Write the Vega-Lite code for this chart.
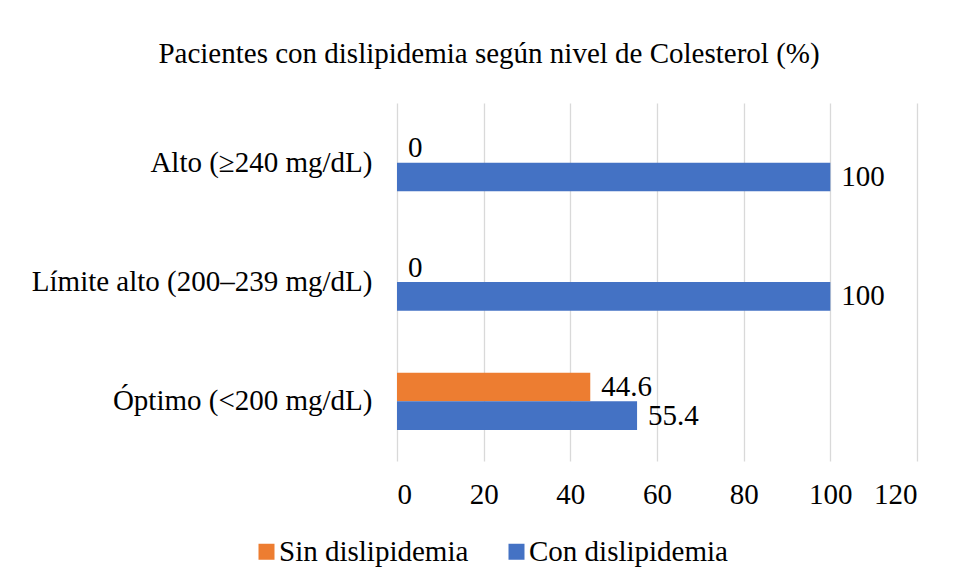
{
  "$schema": "https://vega.github.io/schema/vega-lite/v6.json",
  "autosize": {"type": "none"},
  "width": 520,
  "height": 358,
  "padding": {"left": 397, "top": 103, "right": 42, "bottom": 122},
  "background": "white",
  "config": {
    "view": {"stroke": null},
    "font": "Times New Roman, Liberation Serif, serif",
    "text": {"font": "Times New Roman, Liberation Serif, serif"}
  },
  "title": {
    "text": "Pacientes con dislipidemia según nivel de Colesterol (%)",
    "font": "Times New Roman, Liberation Serif, serif",
    "fontSize": 29,
    "fontWeight": "normal",
    "color": "#000000",
    "anchor": "middle",
    "dx": -168,
    "offset": 34
  },
  "data": {
    "values": [
      {"nivel": "Alto (≥240 mg/dL)", "grupo": "Sin dislipidemia", "valor": 0},
      {"nivel": "Alto (≥240 mg/dL)", "grupo": "Con dislipidemia", "valor": 100},
      {"nivel": "Límite alto (200–239 mg/dL)", "grupo": "Sin dislipidemia", "valor": 0},
      {"nivel": "Límite alto (200–239 mg/dL)", "grupo": "Con dislipidemia", "valor": 100},
      {"nivel": "Óptimo (<200 mg/dL)", "grupo": "Sin dislipidemia", "valor": 44.6},
      {"nivel": "Óptimo (<200 mg/dL)", "grupo": "Con dislipidemia", "valor": 55.4}
    ]
  },
  "encoding": {
    "y": {
      "field": "nivel",
      "type": "nominal",
      "sort": ["Alto (≥240 mg/dL)", "Límite alto (200–239 mg/dL)", "Óptimo (<200 mg/dL)"],
      "scale": {"paddingInner": 0.52, "paddingOuter": 0.26},
      "axis": {
        "title": null,
        "domain": false,
        "ticks": false,
        "labelFont": "Times New Roman, Liberation Serif, serif",
        "labelFontSize": 29,
        "labelColor": "#000000",
        "labelPadding": 25,
        "labelLimit": 400
      }
    },
    "yOffset": {
      "field": "grupo",
      "type": "nominal",
      "sort": ["Sin dislipidemia", "Con dislipidemia"]
    },
    "x": {
      "field": "valor",
      "type": "quantitative",
      "scale": {"domain": [0, 120], "nice": false},
      "axis": {
        "title": null,
        "values": [0, 20, 40, 60, 80, 100, 120],
        "domain": false,
        "ticks": false,
        "grid": true,
        "gridColor": "#d9d9d9",
        "gridWidth": 1.3,
        "labelFont": "Times New Roman, Liberation Serif, serif",
        "labelFontSize": 29,
        "labelColor": "#000000",
        "labelPadding": 19
      }
    }
  },
  "layer": [
    {
      "mark": {"type": "bar"},
      "encoding": {
        "color": {
          "field": "grupo",
          "type": "nominal",
          "sort": ["Sin dislipidemia", "Con dislipidemia"],
          "scale": {"domain": ["Sin dislipidemia", "Con dislipidemia"], "range": ["#ED7D31", "#4472C4"]},
          "legend": {
            "title": null,
            "orient": "none",
            "legendX": -145,
            "legendY": 434,
            "direction": "horizontal",
            "symbolType": "square",
            "symbolSize": 256,
            "symbolStrokeWidth": 0,
            "labelFont": "Times New Roman, Liberation Serif, serif",
            "labelFontSize": 29,
            "labelColor": "#000000",
            "labelOffset": -2,
            "columnPadding": 33,
            "labelLimit": 300
          }
        }
      }
    },
    {
      "mark": {"type": "text", "align": "left", "baseline": "middle", "dx": 11, "fontSize": 29, "font": "Times New Roman, Liberation Serif, serif", "color": "#000000"},
      "encoding": {
        "text": {"field": "valor", "type": "quantitative"}
      }
    }
  ]
}
